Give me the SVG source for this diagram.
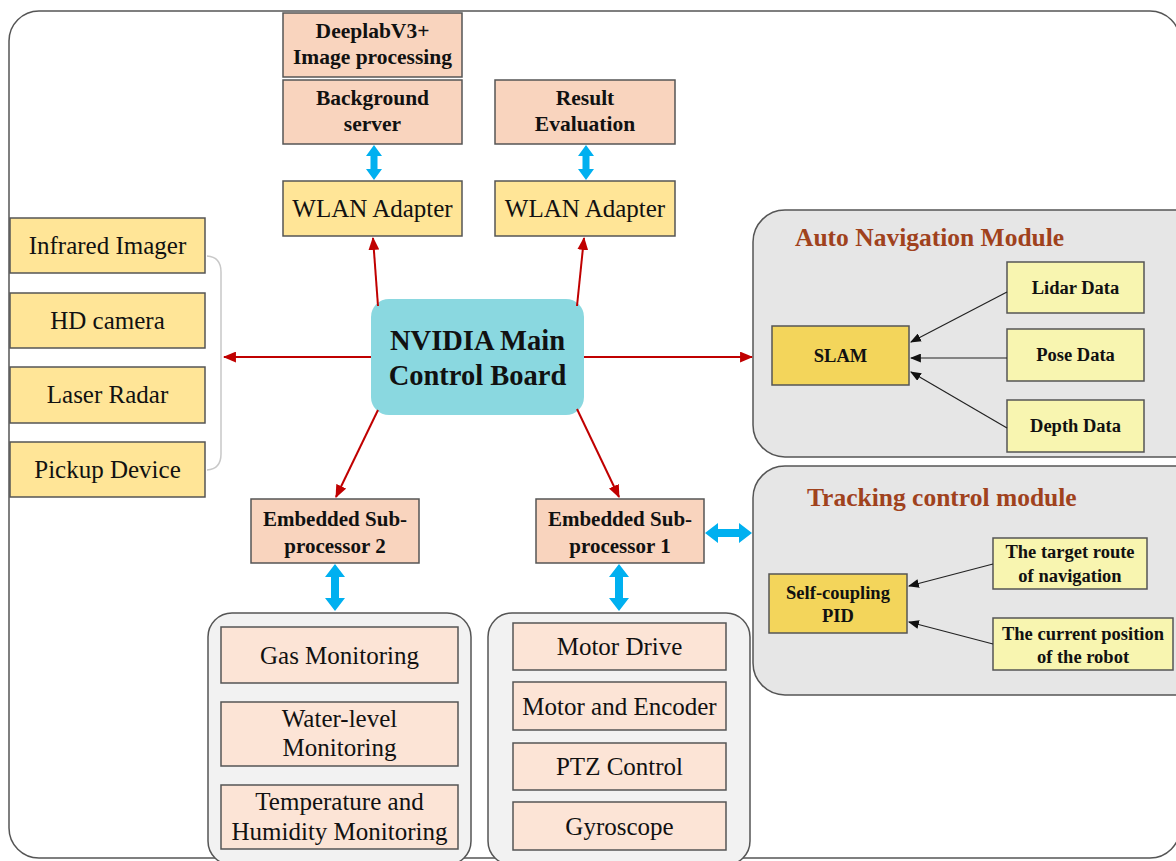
<svg xmlns="http://www.w3.org/2000/svg" width="1176" height="861" viewBox="0 0 1176 861">
<defs>
<style>
.box{stroke:#555;stroke-width:1.5}
.peach{fill:#F9D4BE}
.yel{fill:#FFE597}
.light{fill:#FCE4D6}
.pale{fill:#F8F5B0}
.gold{fill:#F3D55B}
.panel{fill:#E6E6E6;stroke:#555;stroke-width:1.5}
.panel2{fill:#F2F2F2;stroke:#555;stroke-width:1.5}
text{font-family:"Liberation Serif","Times New Roman",serif;fill:#111;text-anchor:middle}
.b{font-weight:bold}
.t19{font-size:21.5px}
.t22{font-size:25px}
.t17{font-size:21px}
.t16{font-size:18.5px}
.title{font-size:25.5px;font-weight:bold;fill:#A0421D;text-anchor:start}
.red{stroke:#C00000;stroke-width:2;fill:none}
.blk{stroke:#222;stroke-width:1.2;fill:none}
.blue{fill:#00B0F0}
</style>
<marker id="ar" viewBox="0 0 12 10" refX="11" refY="5" markerWidth="13" markerHeight="11" markerUnits="userSpaceOnUse" orient="auto">
<path d="M0,0 L12,5 L0,10 z" fill="#C00000"/>
</marker>
<marker id="ak" viewBox="0 0 10 8" refX="9" refY="4" markerWidth="11" markerHeight="9" markerUnits="userSpaceOnUse" orient="auto">
<path d="M0,0 L10,4 L0,8 z" fill="#111"/>
</marker>
</defs>
<rect x="0" y="0" width="1176" height="861" fill="#fff"/>
<rect id="frame" x="9" y="11" width="1171" height="847" rx="30" fill="#fff" stroke="#555" stroke-width="1.5"/>

<g id="top-boxes">
<g id="deeplab"><rect class="box peach" x="283" y="13" width="179" height="64"/><text class="b t19" x="372.5" y="38">DeeplabV3+</text><text class="b t19" x="372.5" y="64">Image processing</text></g>
<g id="background"><rect class="box peach" x="283" y="80" width="179" height="64"/><text class="b t19" x="372.5" y="105">Background</text><text class="b t19" x="372.5" y="131">server</text></g>
<g id="result"><rect class="box peach" x="495" y="80" width="180" height="64"/><text class="b t19" x="585" y="105">Result</text><text class="b t19" x="585" y="131">Evaluation</text></g>
<g id="wlan1"><rect class="box yel" x="283" y="181" width="179" height="55"/><text class="t22" x="372.5" y="217">WLAN Adapter</text></g>
<g id="wlan2"><rect class="box yel" x="495" y="181" width="180" height="55"/><text class="t22" x="585" y="217">WLAN Adapter</text></g>
</g>

<g id="sensors">
<g id="infrared"><rect class="box yel" x="10" y="218" width="195" height="55"/><text class="t22" x="107.5" y="254">Infrared Imager</text></g>
<g id="hd"><rect class="box yel" x="10" y="293" width="195" height="55"/><text class="t22" x="107.5" y="329">HD camera</text></g>
<g id="laser"><rect class="box yel" x="10" y="367" width="195" height="56"/><text class="t22" x="107.5" y="403">Laser Radar</text></g>
<g id="pickup"><rect class="box yel" x="10" y="442" width="195" height="55"/><text class="t22" x="107.5" y="478">Pickup Device</text></g>
<path d="M207,256 Q221,257 221,272 L221,454 Q221,469 207,470" fill="none" stroke="#C8C8C8" stroke-width="1.5"/>
</g>

<g id="nvidia"><rect x="371" y="299" width="213" height="116" rx="18" fill="#8AD8E0"/><text class="b" style="font-size:28.5px" x="477.5" y="350">NVIDIA Main</text><text class="b" style="font-size:28.5px" x="477.5" y="385">Control Board</text></g>

<g id="sub2"><rect class="box peach" x="251" y="499" width="168" height="64"/><text class="b t17" x="335" y="526">Embedded Sub-</text><text class="b t17" x="335" y="553">processor 2</text></g>
<g id="sub1"><rect class="box peach" x="536" y="499" width="168" height="64"/><text class="b t17" x="620" y="526">Embedded Sub-</text><text class="b t17" x="620" y="553">processor 1</text></g>

<g id="monitor-panel">
<rect class="panel2" x="208" y="613" width="263" height="252" rx="24"/>
<g id="gas"><rect class="box light" x="221" y="627" width="237" height="56"/><text class="t22" x="339.5" y="664">Gas Monitoring</text></g>
<g id="water"><rect class="box light" x="221" y="702" width="237" height="64"/><text class="t22" x="339.5" y="727">Water-level</text><text class="t22" x="339.5" y="756">Monitoring</text></g>
<g id="temp"><rect class="box light" x="221" y="785" width="237" height="64"/><text class="t22" x="339.5" y="810">Temperature and</text><text class="t22" x="339.5" y="840">Humidity Monitoring</text></g>
</g>

<g id="motor-panel">
<rect class="panel2" x="488" y="613" width="262" height="252" rx="24"/>
<g id="motordrive"><rect class="box light" x="513" y="623" width="213" height="47"/><text class="t22" x="619.5" y="655">Motor Drive</text></g>
<g id="encoder"><rect class="box light" x="513" y="682" width="213" height="48"/><text class="t22" x="619.5" y="715">Motor and Encoder</text></g>
<g id="ptz"><rect class="box light" x="513" y="743" width="213" height="47"/><text class="t22" x="619.5" y="775">PTZ Control</text></g>
<g id="gyro"><rect class="box light" x="513" y="802" width="213" height="48"/><text class="t22" x="619.5" y="835">Gyroscope</text></g>
</g>

<g id="auto-nav">
<rect class="panel" x="753" y="210" width="460" height="247" rx="32"/>
<text class="title" x="795" y="246">Auto Navigation Module</text>
<g id="slam"><rect class="box gold" x="772" y="326" width="137" height="59"/><text class="b t16" x="840.5" y="362">SLAM</text></g>
<g id="lidar"><rect class="box pale" x="1007" y="262" width="137" height="51"/><text class="b t16" x="1075.5" y="294">Lidar Data</text></g>
<g id="pose"><rect class="box pale" x="1007" y="329" width="137" height="52"/><text class="b t16" x="1075.5" y="361">Pose Data</text></g>
<g id="depth"><rect class="box pale" x="1007" y="400" width="137" height="52"/><text class="b t16" x="1075.5" y="432">Depth Data</text></g>
</g>

<g id="tracking">
<rect class="panel" x="753" y="466" width="460" height="229" rx="32"/>
<text class="title" x="807" y="506">Tracking control module</text>
<g id="pid"><rect class="box gold" x="769" y="574" width="138" height="59"/><text class="b t16" x="838" y="599">Self-coupling</text><text class="b t16" x="838" y="622">PID</text></g>
<g id="target"><rect class="box pale" x="993" y="538" width="154" height="51"/><text class="b t16" x="1070" y="558">The target route</text><text class="b t16" x="1070" y="582">of navigation</text></g>
<g id="current"><rect class="box pale" x="993" y="618" width="180" height="52"/><text class="b t16" x="1083" y="640">The current position</text><text class="b t16" x="1083" y="663">of the robot</text></g>
</g>

<g id="connectors">
<line class="red" x1="378" y1="306" x2="373" y2="238" marker-end="url(#ar)"/>
<line class="red" x1="577" y1="306" x2="584" y2="238" marker-end="url(#ar)"/>
<line class="red" x1="371" y1="357" x2="224" y2="357" marker-end="url(#ar)"/>
<line class="red" x1="584" y1="357" x2="752" y2="357" marker-end="url(#ar)"/>
<line class="red" x1="378" y1="410" x2="336" y2="497" marker-end="url(#ar)"/>
<line class="red" x1="577" y1="409" x2="619" y2="497" marker-end="url(#ar)"/>
<polygon class="blue" points="374,145 382,156 377.5,156 377.5,169 382,169 374,180 366,169 370.5,169 370.5,156 366,156"/>
<polygon class="blue" points="586,145 594,156 589.5,156 589.5,169 594,169 586,180 578,169 582.5,169 582.5,156 578,156"/>
<polygon class="blue" points="335,564 345,577 339,577 339,598 345,598 335,611 325,598 331,598 331,577 325,577"/>
<polygon class="blue" points="619,564 629,577 623,577 623,598 629,598 619,611 609,598 615,598 615,577 609,577"/>
<polygon class="blue" points="705,533 718,523 718,529 739,529 739,523 752,533 739,543 739,537 718,537 718,543"/>
<line class="blk" x1="1007" y1="292" x2="911" y2="342" marker-end="url(#ak)"/>
<line class="blk" x1="1007" y1="358" x2="911" y2="358" marker-end="url(#ak)"/>
<line class="blk" x1="1007" y1="428" x2="911" y2="372" marker-end="url(#ak)"/>
<line class="blk" x1="993" y1="564" x2="909" y2="586" marker-end="url(#ak)"/>
<line class="blk" x1="993" y1="644" x2="909" y2="622" marker-end="url(#ak)"/>
</g>
</svg>
